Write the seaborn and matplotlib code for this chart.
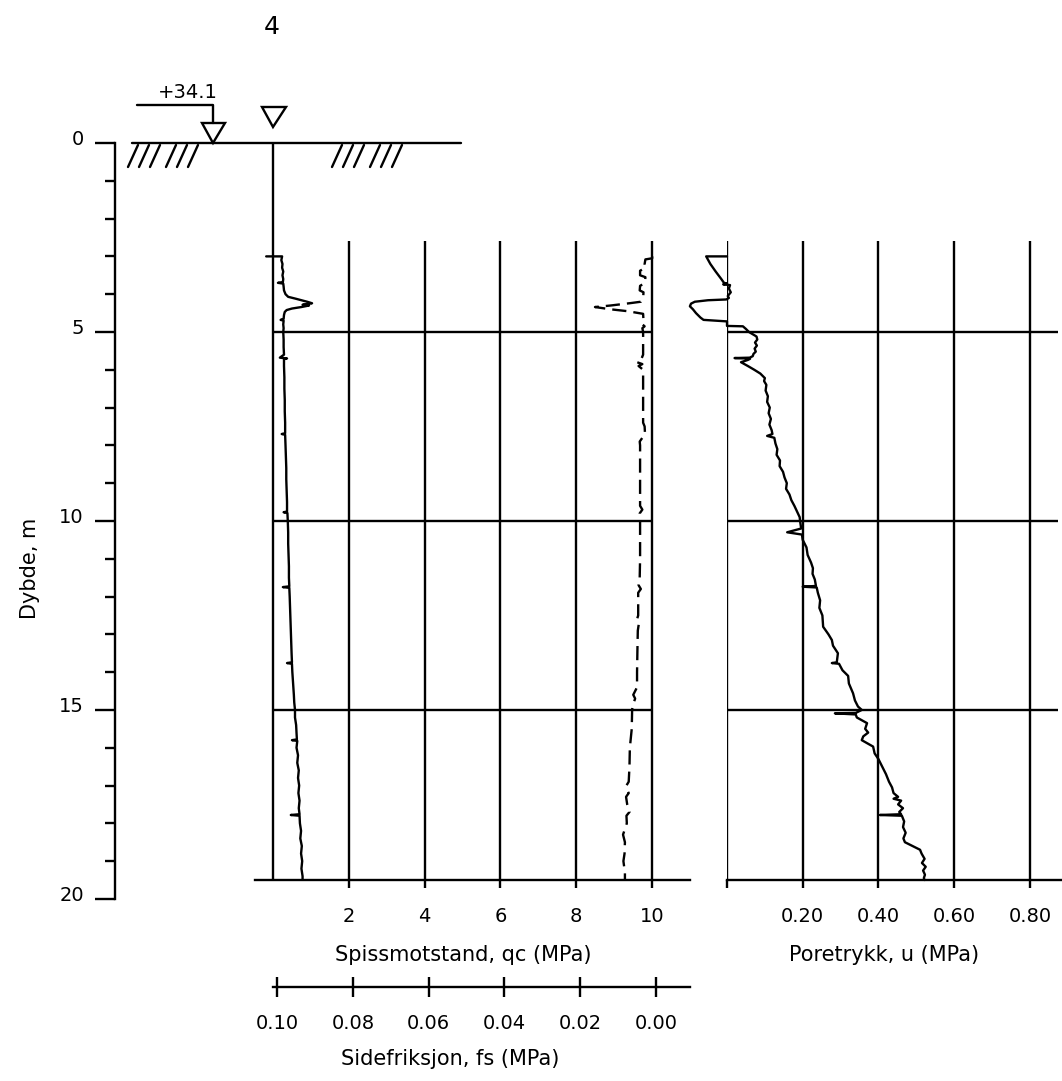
import matplotlib
matplotlib.use("Agg")
import matplotlib.pyplot as plt
import seaborn as sns
from matplotlib.ticker import MultipleLocator, FixedLocator
from matplotlib.transforms import ScaledTranslation
from matplotlib.patches import Polygon

# ---------------------------------------------------------------- data
# Cone resistance qc (MPa) against depth (m)
qc_depth = [3.00, 3.00, 3.10, 3.20, 3.30, 3.40, 3.50, 3.60, 3.68, 3.70, 3.72, 3.80,
            3.90, 4.00, 4.07, 4.12, 4.16, 4.20, 4.24, 4.28, 4.30, 4.34, 4.38, 4.42,
            4.47, 4.55, 4.65, 4.68, 4.70, 4.80, 4.90, 5.00, 5.20, 5.40, 5.60, 5.68,
            5.70, 5.72, 5.90, 6.20, 6.50, 6.80, 7.10, 7.40, 7.68, 7.70, 7.72, 8.00,
            8.30, 8.60, 8.90, 9.20, 9.50, 9.75, 9.77, 9.79, 10.00, 10.30, 10.60, 10.90,
            11.20, 11.50, 11.73, 11.75, 11.77, 12.00, 12.30, 12.60, 12.90, 13.20, 13.50,
            13.74, 13.76, 13.78, 14.00, 14.30, 14.60, 14.80, 15.00, 15.20, 15.40, 15.60,
            15.78, 15.80, 15.82, 16.00, 16.20, 16.40, 16.60, 16.80, 17.00, 17.20, 17.40,
            17.60, 17.76, 17.78, 17.80, 18.00, 18.20, 18.40, 18.60, 18.80, 19.00, 19.20,
            19.40, 19.50]
qc_values = [-0.18, 0.24, 0.22, 0.25, 0.24, 0.27, 0.25, 0.27, 0.26, 0.13, 0.27, 0.28,
             0.29, 0.33, 0.40, 0.60, 0.75, 0.90, 1.03, 0.78, 0.95, 0.75, 0.50, 0.36,
             0.31, 0.29, 0.28, 0.20, 0.28, 0.27, 0.28, 0.27, 0.28, 0.28, 0.29, 0.18,
             0.37, 0.29, 0.29, 0.30, 0.30, 0.31, 0.31, 0.32, 0.32, 0.23, 0.32, 0.33,
             0.34, 0.35, 0.35, 0.36, 0.37, 0.37, 0.28, 0.38, 0.39, 0.40, 0.40, 0.41,
             0.42, 0.42, 0.43, 0.26, 0.43, 0.44, 0.45, 0.46, 0.47, 0.48, 0.49,
             0.50, 0.37, 0.50, 0.51, 0.53, 0.55, 0.56, 0.58, 0.58, 0.61, 0.62,
             0.63, 0.50, 0.64, 0.62, 0.66, 0.64, 0.68, 0.66, 0.69, 0.67, 0.70,
             0.68, 0.70, 0.47, 0.70, 0.71, 0.74, 0.72, 0.76, 0.74, 0.77, 0.75,
             0.78, 0.78]

# Sleeve friction fs (MPa) against depth (m)
fs_depth = [3.00, 3.05, 3.08, 3.20, 3.30, 3.38, 3.50, 3.55, 3.70, 3.78, 3.90, 3.95,
            4.10, 4.20, 4.24, 4.30, 4.34, 4.40, 4.45, 4.52, 4.70, 4.80, 4.85, 4.90,
            5.00, 5.30, 5.60, 5.75, 5.80, 5.85, 5.90, 6.00, 6.50, 7.00, 7.40, 7.50,
            7.70, 7.80, 7.90, 8.00, 8.50, 9.00, 9.60, 9.70, 9.80, 10.00, 10.50, 11.00,
            11.50, 11.70, 11.80, 11.90, 12.20, 12.50, 12.60, 12.70, 12.90, 13.40, 14.00,
            14.40, 14.60, 14.70, 14.90, 15.00, 15.50, 16.00, 16.50, 16.90, 17.00, 17.10,
            17.20, 17.30, 17.50, 17.70, 17.80, 18.00, 18.30, 18.50, 18.80, 19.00, 19.30,
            19.50]
fs_values = [0.0010, 0.0010, 0.0028, 0.0030, 0.0028, 0.0042, 0.0042, 0.0028, 0.0029,
             0.0042, 0.0043, 0.0033, 0.0034, 0.0040, 0.0070, 0.0120, 0.0161, 0.0120,
             0.0075, 0.0034, 0.0033, 0.0036, 0.0030, 0.0036, 0.0034, 0.0034, 0.0034,
             0.0040, 0.0050, 0.0036, 0.0046, 0.0034, 0.0034, 0.0034, 0.0034, 0.0030,
             0.0029, 0.0036, 0.0043, 0.0042, 0.0042, 0.0042, 0.0042, 0.0036, 0.0043,
             0.0042, 0.0042, 0.0042, 0.0043, 0.0046, 0.0040, 0.0047, 0.0047, 0.0047,
             0.0050, 0.0045, 0.0048, 0.0049, 0.0050, 0.0050, 0.0060, 0.0055, 0.0062,
             0.0063, 0.0064, 0.0069, 0.0070, 0.0072, 0.0078, 0.0077, 0.0072, 0.0079,
             0.0076, 0.0070, 0.0078, 0.0077, 0.0087, 0.0082, 0.0083, 0.0086, 0.0082,
             0.0082]

# Pore pressure u (MPa) against depth (m)
u_depth = [3.00, 3.00, 3.20, 3.40, 3.60, 3.70, 3.72, 3.74, 3.76, 3.85, 3.95, 4.05,
           4.10, 4.14, 4.16, 4.20, 4.25, 4.32, 4.40, 4.50, 4.62, 4.68, 4.70, 4.72,
           4.84, 4.85, 4.92, 5.00, 5.06, 5.12, 5.20, 5.28, 5.36, 5.44, 5.52, 5.58,
           5.64, 5.68, 5.69, 5.70, 5.71, 5.74, 5.80, 5.90, 6.00, 6.10, 6.22, 6.30,
           6.40, 6.55, 6.70, 6.85, 7.00, 7.15, 7.30, 7.45, 7.60, 7.70, 7.75, 7.80,
           7.95, 8.10, 8.25, 8.40, 8.55, 8.70, 8.85, 9.00, 9.15, 9.30, 9.45, 9.60,
           9.75, 9.90, 10.00, 10.20, 10.30, 10.36, 10.50, 10.70, 10.90, 11.10, 11.25,
           11.40, 11.55, 11.72, 11.74, 11.76, 11.90, 12.10, 12.30, 12.50, 12.80, 13.00,
           13.15, 13.30, 13.50, 13.74, 13.76, 13.78, 13.95, 14.10, 14.30, 14.56, 14.75,
           14.91, 15.00, 15.08, 15.09, 15.12, 15.20, 15.35, 15.50, 15.60, 15.70, 15.80,
           15.97, 16.15, 16.30, 16.50, 16.70, 16.90, 17.05, 17.20, 17.30, 17.35, 17.40,
           17.50, 17.60, 17.70, 17.76, 17.78, 17.80, 17.95, 18.10, 18.25, 18.40, 18.50,
           18.60, 18.70, 18.80, 18.94, 19.05, 19.15, 19.25, 19.36, 19.45, 19.50]
u_values = [0.000, -0.055, -0.044, -0.030, -0.015, -0.008, 0.000, -0.010, 0.008, 0.005,
            0.010, 0.002, 0.005, -0.002, -0.050, -0.085, -0.095, -0.098, -0.090, -0.082,
            -0.070, -0.062, -0.030, 0.000, 0.000, 0.042, 0.050, 0.058, 0.068, 0.078,
            0.080, 0.074, 0.079, 0.073, 0.076, 0.070, 0.068, 0.060, 0.020, 0.050,
            0.061, 0.055, 0.037, 0.055, 0.072, 0.088, 0.100, 0.098, 0.104, 0.102,
            0.108, 0.106, 0.113, 0.110, 0.116, 0.112, 0.118, 0.120, 0.106, 0.125,
            0.128, 0.133, 0.131, 0.140, 0.139, 0.148, 0.152, 0.158, 0.156, 0.165,
            0.170, 0.178, 0.185, 0.192, 0.193, 0.196, 0.159, 0.198, 0.200, 0.210,
            0.213, 0.222, 0.227, 0.226, 0.232, 0.235, 0.200, 0.237, 0.240, 0.246,
            0.244, 0.252, 0.254, 0.268, 0.277, 0.280, 0.293, 0.290, 0.277, 0.296,
            0.305, 0.320, 0.322, 0.333, 0.338, 0.346, 0.356, 0.340, 0.285, 0.340,
            0.343, 0.370, 0.365, 0.373, 0.360, 0.356, 0.386, 0.390, 0.400, 0.410,
            0.420, 0.428, 0.436, 0.440, 0.452, 0.440, 0.460, 0.452, 0.465, 0.455,
            0.460, 0.404, 0.462, 0.468, 0.465, 0.472, 0.466, 0.470, 0.490, 0.510,
            0.514, 0.522, 0.515, 0.525, 0.518, 0.523, 0.520, 0.522]

qc_ticks = [2, 4, 6, 8, 10]
qc_ticklabels = ["2", "4", "6", "8", "10"]
fs_ticks = [0.10, 0.08, 0.06, 0.04, 0.02, 0.00]
fs_ticklabels = ["0.10", "0.08", "0.06", "0.04", "0.02", "0.00"]
u_ticks = [0.0, 0.2, 0.4, 0.6, 0.8]
u_ticklabels = ["", "0.20", "0.40", "0.60", "0.80"]
depth_major = [0, 5, 10, 15, 20]
grid_depths = [5, 10, 15]

borehole_id = "4"
ground_level = "+34.1"

# ---------------------------------------------------------------- style
sns.set_style("white")
INK = "black"
plt.rcParams.update({
    "font.family": ["DejaVu Sans"],
    "text.color": INK,
    "axes.labelcolor": INK,
    "xtick.color": INK,
    "ytick.color": INK,
})
LW = 1.7
FS_TICK = 14
FS_LABEL = 15

W, H = 1062, 1081
fig = plt.figure(figsize=(W / 100, H / 100), dpi=100)


def rect(x0, y0, x1, y1):
    """Axes rectangle from pixel edges measured from the top-left corner."""
    return [x0 / W, 1 - y1 / H, (x1 - x0) / W, (y1 - y0) / H]


PT = 72 / 100  # points per pixel
GRID_TOP = 2.6
BOTTOM = 19.5

# ---------------------------------------------------------------- depth scale
ax_d = fig.add_axes(rect(115, 143, 116, 899))
ax_d.set_facecolor("none")
ax_d.set_ylim(20, 0)
ax_d.set_xticks([])
for side in ("top", "right", "bottom"):
    ax_d.spines[side].set_visible(False)
ax_d.spines["left"].set_linewidth(LW)
ax_d.spines["left"].set_color(INK)
ax_d.yaxis.set_major_locator(FixedLocator(depth_major))
ax_d.yaxis.set_minor_locator(MultipleLocator(1))
ax_d.tick_params(axis="y", which="major", direction="out", length=20 * PT, width=LW,
                 color=INK, labelcolor=INK, labelsize=FS_TICK, pad=8, left=True)
ax_d.tick_params(axis="y", which="minor", direction="out", length=10 * PT, width=LW,
                 color=INK, left=True)
lift = ScaledTranslation(0, 0.06, fig.dpi_scale_trans)
for lab in ax_d.get_yticklabels():
    lab.set_transform(lab.get_transform() + lift)
fig.text(30 / W, 1 - 568 / H, "Dybde, m", rotation=90, ha="center", va="center",
         fontsize=FS_LABEL, color=INK)

# ---------------------------------------------------------------- qc / fs panel
ax_qc = fig.add_axes(rect(255, 143, 690, 880))
ax_qc.set_facecolor("none")
ax_fs = ax_qc.twiny()
ax_fs.set_facecolor("none")

sns.lineplot(x=qc_values, y=qc_depth, sort=False, estimator=None, orient="y",
             color=INK, lw=LW, ax=ax_qc)
sns.lineplot(x=fs_values, y=fs_depth, sort=False, estimator=None, orient="y",
             color=INK, lw=LW, linestyle=(0, (6, 3)), ax=ax_fs)

ax_qc.vlines(qc_ticks, GRID_TOP, BOTTOM, colors=INK, lw=LW)
ax_qc.vlines([0], 0, BOTTOM, colors=INK, lw=LW)
ax_qc.hlines(grid_depths, 0, 10, colors=INK, lw=LW)

ax_qc.set_xlim(-0.475, 11.0)
ax_qc.set_ylim(BOTTOM, 0)
ax_fs.set_xlim(0.1058, -0.00897)
ax_qc.set_yticks([])
for side in ("top", "right", "left"):
    ax_qc.spines[side].set_visible(False)
    ax_fs.spines[side].set_visible(False)
ax_fs.spines["bottom"].set_visible(False)
ax_fs.set_xticks([])
ax_fs.set_yticks([])
ax_qc.spines["bottom"].set_linewidth(LW)
ax_qc.spines["bottom"].set_color(INK)
ax_qc.set_xticks(qc_ticks)
ax_qc.set_xticklabels(qc_ticklabels)
ax_qc.tick_params(axis="x", direction="out", length=8 * PT, width=LW, color=INK,
                  labelcolor=INK, labelsize=FS_TICK, pad=14, bottom=True)
ax_qc.set_xlabel("Spissmotstand, qc (MPa)", fontsize=FS_LABEL, color=INK)
ax_qc.xaxis.label.set_va("center")
ax_qc.xaxis.set_label_coords((463 - 255) / 435, (880 - 955) / 737)

# fs scale below the qc scale
ax_fx = fig.add_axes(rect(273, 977, 690, 987))
ax_fx.set_facecolor("none")
ax_fx.set_xlim(0.10106, -0.00897)
ax_fx.set_yticks([])
for side in ("top", "right", "left"):
    ax_fx.spines[side].set_visible(False)
ax_fx.spines["bottom"].set_linewidth(LW)
ax_fx.spines["bottom"].set_color(INK)
ax_fx.set_xticks(fs_ticks)
ax_fx.set_xticklabels(fs_ticklabels)
ax_fx.tick_params(axis="x", direction="inout", length=20 * PT, width=LW, color=INK,
                  labelcolor=INK, labelsize=FS_TICK, pad=12, bottom=True)
ax_fx.set_xlabel("Sidefriksjon, fs (MPa)", fontsize=FS_LABEL, color=INK)
ax_fx.xaxis.label.set_va("center")
ax_fx.xaxis.set_label_coords((450 - 273) / 417, (987 - 1059) / 10)

# ---------------------------------------------------------------- u panel
ax_u = fig.add_axes(rect(727, 143, 1062, 880))
ax_u.set_facecolor("none")
sns.lineplot(x=u_values, y=u_depth, sort=False, estimator=None, orient="y",
             color=INK, lw=LW, clip_on=False, ax=ax_u)
ax_u.vlines(u_ticks, GRID_TOP, BOTTOM, colors=INK, lw=LW)
ax_u.hlines(grid_depths, 0, 0.875, colors=INK, lw=LW)
ax_u.set_xlim(0, 0.885)
ax_u.set_ylim(BOTTOM, 0)
ax_u.set_yticks([])
for side in ("top", "right", "left"):
    ax_u.spines[side].set_visible(False)
ax_u.spines["bottom"].set_linewidth(LW)
ax_u.spines["bottom"].set_color(INK)
ax_u.set_xticks(u_ticks)
ax_u.set_xticklabels(u_ticklabels)
ax_u.tick_params(axis="x", direction="out", length=8 * PT, width=LW, color=INK,
                 labelcolor=INK, labelsize=FS_TICK, pad=14, bottom=True)
ax_u.set_xlabel("Poretrykk, u (MPa)", fontsize=FS_LABEL, color=INK)
ax_u.xaxis.label.set_va("center")
ax_u.xaxis.set_label_coords((884 - 727) / 335, (880 - 955) / 737)

# ---------------------------------------------------------------- ground symbols
ax_s = fig.add_axes([0, 0, 1, 1])
ax_s.set_xlim(0, W)
ax_s.set_ylim(H, 0)
ax_s.axis("off")
ax_s.set_facecolor("none")

ax_s.plot([132, 461], [143, 143], color=INK, lw=LW)
for x in [128, 139, 150, 166, 177, 188, 332, 343, 354, 370, 381, 392]:
    ax_s.plot([x, x + 10], [167, 145], color=INK, lw=LW)

# terrain level marker
ax_s.plot([137, 213, 213], [105, 105, 123], color=INK, lw=LW)
ax_s.add_patch(Polygon([[202, 123], [225, 123], [213, 143]], closed=True,
                       fill=False, ec=INK, lw=LW))
ax_s.text(188, 92, ground_level, ha="center", va="center", fontsize=FS_TICK, color=INK)

# water level marker
ax_s.add_patch(Polygon([[262, 107], [286, 107], [273, 127]], closed=True,
                       fill=False, ec=INK, lw=LW))

ax_s.text(272, 27, borehole_id, ha="center", va="center", fontsize=18, color=INK)

fig.savefig("out.png", dpi=100)
